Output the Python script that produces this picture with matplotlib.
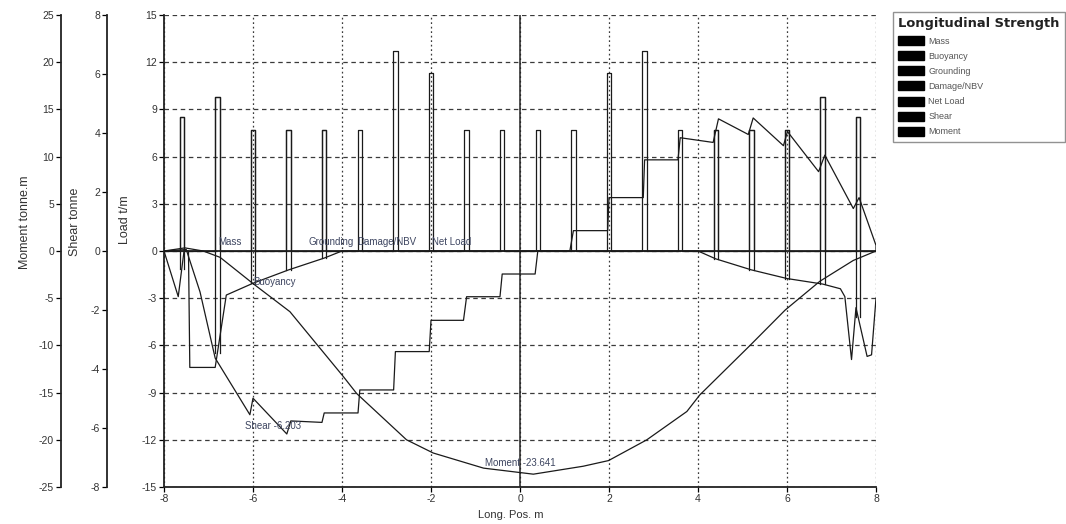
import matplotlib
matplotlib.use("Agg")
import matplotlib.pyplot as plt
from matplotlib.patches import Patch
from matplotlib.font_manager import FontProperties
import numpy as np

plt.rcParams['font.family'] = ['Liberation Sans', 'DejaVu Sans']
plt.rcParams['axes.unicode_minus'] = False

# ---------------- data ----------------
# Mass (concentrated loads), t/m, at longitudinal positions
bar_x = [-7.6, -6.8, -6.0, -5.2, -4.4, -3.6, -2.8, -2.0, -1.2, -0.4,
         0.4, 1.2, 2.0, 2.8, 3.6, 4.4, 5.2, 6.0, 6.8, 7.6]
mass_h = [8.5, 9.8, 7.7, 7.7, 7.7, 7.7, 12.7, 11.3, 7.7, 7.7,
          7.7, 7.7, 11.3, 12.7, 7.7, 7.7, 7.7, 7.7, 9.8, 8.5]

# Buoyancy (plotted negative), t/m
buoy_x = [-8.0, -7.68, -7.55, -7.45, -7.42, -6.85, -6.6, -6.0, -5.2, -4.4, -4.0,
          4.0, 4.4, 5.2, 6.0, 6.8, 7.2, 7.3, 7.45, 7.55, 7.8, 7.9, 8.0]
buoy_y = [0.0, -2.9, 0.0, 0.0, -7.4, -7.4, -2.8, -2.05, -1.2, -0.45, 0.0,
          0.0, -0.5, -1.2, -1.75, -2.1, -2.4, -2.9, -6.9, -3.6, -6.7, -6.6, -3.0]

# Shear, tonne
shear_x = [-8.0, -7.5, -7.19, -6.85, -6.07, -6.0, -5.24, -5.15, -4.45, -4.4, -3.64,
           -3.6, -2.84, -2.8, -2.04, -2.0, -1.27, -1.2, -0.45, -0.4, 0.34, 0.4,
           1.12, 1.2, 1.97, 2.0, 2.77, 2.8, 3.55, 3.6, 4.34, 4.46, 5.13, 5.24,
           5.92, 6.01, 6.71, 6.85, 7.49, 7.62, 8.0, 8.0]
shear_v = [0.0, 0.05, -1.39, -3.63, -5.55, -4.99, -6.203, -5.76, -5.81, -5.49, -5.49,
           -4.71, -4.71, -3.41, -3.41, -2.35, -2.35, -1.55, -1.55, -0.78, -0.78, 0.0,
           0.0, 0.69, 0.69, 1.81, 1.81, 3.09, 3.09, 3.84, 3.68, 4.48, 3.95, 4.51,
           3.57, 4.05, 2.69, 3.25, 1.44, 1.81, 0.19, 0.0]

# Moment, tonne.m
moment_x = [-8.0, -7.53, -7.12, -6.74, -6.0, -5.17, -3.97, -3.67, -2.55, -1.95,
            -0.82, 0.3, 1.42, 1.99, 2.85, 3.75, 4.04, 5.17, 5.96, 6.74, 7.49, 8.0]
moment_v = [0.0, 0.33, 0.0, -0.67, -3.45, -6.43, -13.3, -15.1, -20.0, -21.4,
            -23.0, -23.641, -22.8, -22.2, -20.0, -17.0, -15.25, -10.0, -6.25, -3.2, -1.0, 0.0]

legend_labels = ['Mass', 'Buoyancy', 'Grounding', 'Damage/NBV', 'Net Load', 'Shear', 'Moment']
x_ticks = list(range(-8, 9, 2))
load_ticks = list(range(-15, 16, 3))
shear_ticks = list(range(-8, 9, 2))
moment_ticks = list(range(-25, 26, 5))

# ---------------- figure ----------------
W, H = 1066, 524
fig = plt.figure(figsize=(W / 100, H / 100), dpi=100)
ax = fig.add_axes([164 / W, 37 / H, 712 / W, 472 / H])
ax.set_xlim(-8, 8)
ax.set_ylim(-15, 15)
ax.set_xticks(x_ticks)
ax.set_yticks(load_ticks)

LC = '#1a1a1a'
GC = '#3a3a3a'
TC = '#333333'

for s in ['top', 'right']:
    ax.spines[s].set_visible(False)
for s in ['left', 'bottom']:
    ax.spines[s].set_linewidth(1.3)
    ax.spines[s].set_color('#222222')

ax.yaxis.grid(True, color=GC, linewidth=0.9, linestyle=(0, (3.6, 2.9)))
ax.xaxis.grid(True, color=GC, linewidth=0.9, linestyle=(0, (1.4, 2.2)))
ax.set_axisbelow(True)
ax.axhline(0, color='#222222', linewidth=1.3, zorder=2)
ax.axvline(0, color='#222222', linewidth=1.1, zorder=2)

ax.tick_params(axis='both', direction='out', length=3.5, width=0.9, labelsize=7.5,
               labelcolor=TC, pad=1.5)

# Mass bars (outlines)
w = 0.1
mx, my = [-8.0], [0.0]
for x, h in zip(bar_x, mass_h):
    mx += [x - w / 2, x - w / 2, x + w / 2, x + w / 2]
    my += [0.0, h, h, 0.0]
mx.append(8.0)
my.append(0.0)
ax.plot(mx, my, color=LC, linewidth=0.9, zorder=3)

# Buoyancy curve
ax.plot(buoy_x, buoy_y, color=LC, linewidth=0.9, zorder=3)

# Net load spikes (from buoyancy level up to the load)
for x, h in zip(bar_x, mass_h):
    b = float(np.interp(x, buoy_x, buoy_y))
    if b < 0:
        ax.plot([x - w / 2, x - w / 2, x + w / 2, x + w / 2], [b, h, h, b],
                color=LC, linewidth=0.9, zorder=3)

# series labels
SC = '#3d4560'
ax.text(-6.79, 0.25, 'Mass', fontsize=7, color=SC, ha='left', va='bottom', zorder=5)
ax.text(-4.76, 0.25, 'Grounding', fontsize=7, color=SC, ha='left', va='bottom', zorder=5)
ax.text(-3.66, 0.25, 'Damage/NBV', fontsize=7, color=SC, ha='left', va='bottom', zorder=5)
ax.text(-1.98, 0.25, 'Net Load', fontsize=7, color=SC, ha='left', va='bottom', zorder=5)
ax.text(-6.0, -2.0, 'Buoyancy', fontsize=7, color=SC, ha='left', va='center', zorder=5)

ax.set_ylabel('Load t/m', fontsize=9, color=TC, va='center')
ax.yaxis.set_label_coords((125 - 164) / 712, (487 - 220) / 472)
ax.set_xlabel('Long. Pos. m', fontsize=8, color=TC, va='center')
ax.xaxis.set_label_coords((511 - 164) / 712, (487 - 515) / 472)


def side_axis(offset_px, lim, ticks, label, label_x_px):
    a = ax.twinx()
    a.set_ylim(*lim)
    a.set_yticks(ticks)
    for s in ['right', 'top', 'bottom']:
        a.spines[s].set_visible(False)
    a.spines['left'].set_visible(True)
    a.spines['left'].set_position(('outward', offset_px * 72 / 100))
    a.spines['left'].set_linewidth(1.3)
    a.spines['left'].set_color('#222222')
    a.yaxis.set_ticks_position('left')
    a.yaxis.set_label_position('left')
    a.tick_params(axis='y', direction='out', length=3.5, width=0.9, labelsize=7.5,
                  labelcolor=TC, pad=1.5)
    a.set_ylabel(label, fontsize=9, color=TC, va='center')
    a.yaxis.set_label_coords((label_x_px - 164) / 712, (487 - 222) / 472)
    return a


ax_sh = side_axis(57, (-8, 8), shear_ticks, 'Shear tonne', 75)
ax_mo = side_axis(103, (-25, 25), moment_ticks, 'Moment tonne.m', 25)

ax_sh.plot(shear_x, shear_v, color=LC, linewidth=0.9, zorder=3)
ax_sh.text(-6.18, -5.93, 'Shear -6.203', fontsize=7, color=SC, ha='left', va='center')

ax_mo.plot(moment_x, moment_v, color=LC, linewidth=0.9, zorder=3)
ax_mo.text(-0.79, -22.5, 'Moment -23.641', fontsize=7, color=SC, ha='left', va='center')

# legend
handles = [Patch(facecolor='black', edgecolor='black') for _ in legend_labels]
title_fp = FontProperties(family='DejaVu Sans', weight='bold', size=9.4)
leg = fig.legend(handles, legend_labels, loc='upper left',
                 bbox_to_anchor=(893 / W, 1 - 12 / H),
                 title='Longitudinal Strength',
                 title_fontproperties=title_fp,
                 fontsize=6.5, frameon=True, fancybox=False,
                 handlelength=2.8, handleheight=1.15, labelspacing=0.62,
                 borderpad=0.6, handletextpad=0.5, borderaxespad=0,
                 alignment='left', labelcolor='#555555')
leg.get_title().set_fontweight('bold')
leg.get_title().set_color('#222222')
leg.get_frame().set_edgecolor('#777777')
leg.get_frame().set_linewidth(1.0)

fig.savefig('out.png', dpi=100)
